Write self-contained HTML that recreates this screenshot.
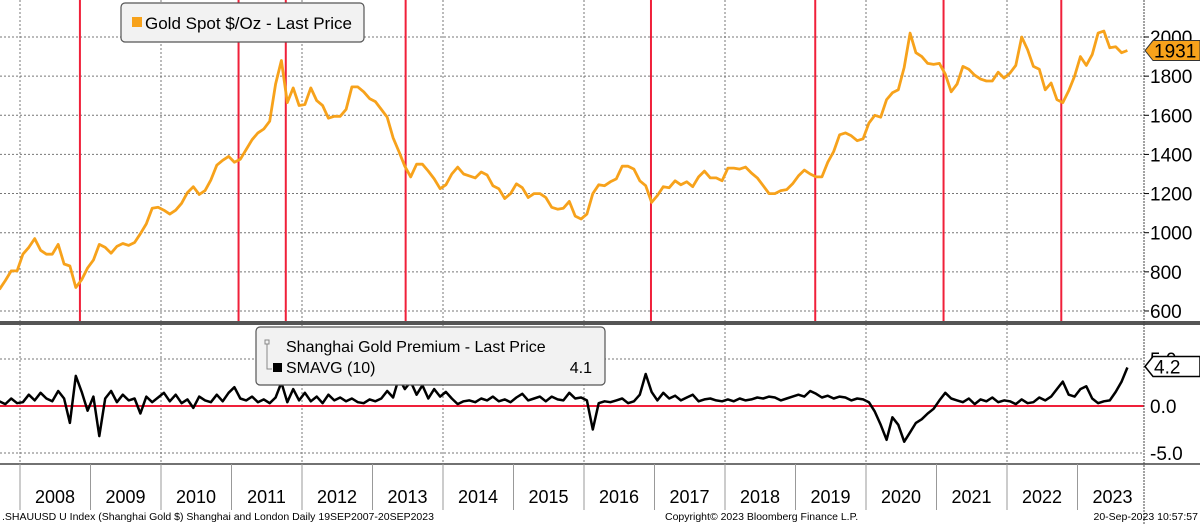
<!DOCTYPE html>
<html><head><meta charset="utf-8"><style>
html,body{margin:0;padding:0;background:#fff;}
svg{display:block;font-family:"Liberation Sans",sans-serif;}
</style></head><body>
<svg id="chart" width="1200" height="524" viewBox="0 0 1200 524" xmlns="http://www.w3.org/2000/svg"></svg>
<script>
const years=[2008,2009,2010,2011,2012,2013,2014,2015,2016,2017,2018,2019,2020,2021,2022,2023];
const goldTicks=[600,800,1000,1200,1400,1600,1800,2000];
const premTicks=[-5,0,5];
const redLineDates=[2008.85,2011.1,2011.77,2013.47,2016.95,2019.28,2021.1,2022.77];
// monthly from Sep 2007
const gold=[710,755,805,805,
890,925,970,910,890,890,940,840,830,720,760,820,
860,940,925,895,930,945,935,950,995,1045,1125,1130,
1115,1095,1115,1150,1205,1235,1195,1215,1270,1345,1370,1390,
1360,1375,1425,1475,1510,1530,1570,1760,1880,1665,1740,1650,
1655,1740,1675,1650,1585,1595,1595,1630,1745,1745,1720,1685,
1670,1630,1590,1485,1415,1340,1285,1350,1350,1315,1275,1225,
1245,1300,1335,1300,1290,1280,1310,1295,1240,1225,1175,1200,
1250,1230,1180,1200,1200,1180,1130,1120,1125,1160,1085,1070,
1095,1200,1245,1240,1260,1275,1340,1340,1325,1265,1240,1155,
1190,1235,1230,1265,1245,1260,1235,1285,1315,1280,1280,1265,
1330,1330,1325,1335,1305,1280,1240,1200,1200,1215,1220,1250,
1290,1320,1300,1285,1285,1360,1415,1500,1510,1495,1470,1480,
1560,1600,1590,1680,1715,1730,1845,2020,1920,1900,1865,1860,
1865,1810,1720,1760,1850,1835,1805,1785,1775,1775,1820,1790,
1815,1855,2000,1935,1850,1835,1730,1765,1680,1665,1725,1800,
1900,1855,1910,2020,2030,1945,1950,1920,1931];
const premium=[0.5,0.2,0.8,0.3,
0.4,1.2,0.6,1.4,0.8,0.5,1.6,0.8,-1.8,3.2,1.5,-0.5,
1.0,-3.2,0.8,1.6,0.4,1.2,0.6,0.8,-0.8,1.0,0.4,0.9,
1.4,0.5,1.2,0.3,0.7,-0.2,1.0,0.6,0.4,1.2,0.5,1.4,
2.0,0.8,0.6,1.0,0.4,0.7,0.3,0.9,2.5,0.4,1.8,0.6,
1.4,0.5,1.0,0.3,1.2,0.6,0.9,0.5,0.8,0.4,0.3,0.7,
0.5,0.8,1.6,0.9,3.0,1.8,2.6,1.2,2.2,0.8,1.8,1.0,
1.5,0.8,0.2,0.5,0.6,0.4,0.8,0.6,1.0,0.5,0.7,0.4,
0.9,1.3,0.6,0.8,1.0,0.5,1.0,0.7,0.6,1.4,0.8,0.9,
0.6,-2.5,0.3,0.5,0.4,0.6,0.8,0.3,0.5,1.2,3.4,1.5,
0.6,1.4,0.8,1.1,0.6,0.9,1.2,0.5,0.7,0.8,0.6,0.5,
0.7,0.5,0.8,0.6,0.7,0.9,0.8,1.0,0.9,0.6,0.8,1.0,
1.2,1.0,1.6,1.3,0.9,1.1,0.8,1.0,0.9,0.6,0.8,0.7,
0.4,-0.6,-2.0,-3.6,-1.2,-2.0,-3.8,-2.8,-1.8,-1.4,-0.8,-0.3,
0.6,1.4,0.8,0.6,0.4,0.8,0.2,0.7,0.5,0.9,0.4,0.6,
0.5,0.2,0.7,0.3,0.4,0.9,0.6,1.0,1.8,2.6,1.2,1.0,
1.8,2.1,0.8,0.3,0.5,0.6,1.5,2.6,4.1];

const NS="http://www.w3.org/2000/svg";
const svg=document.getElementById('chart');
function el(tag,attrs,parent){const e=document.createElementNS(NS,tag);for(const k in attrs)e.setAttribute(k,attrs[k]);(parent||svg).appendChild(e);return e;}
const X=t=>20+(t-2008)*70.5;
const Yg=v=>37+(2000-v)*39.14/200;
const Yp=v=>406-v*9.4;
const tOf=i=>2007+(8+i+0.5)/12;
const AX=1144;

goldTicks.forEach(v=>{const g=el('line',{x1:0,x2:AX,y1:Yg(v),y2:Yg(v),stroke:'#777','stroke-dasharray':'2,2','stroke-width':1});
});
[5,-5].forEach(v=>{const g=el('line',{x1:0,x2:AX,y1:Yp(v),y2:Yp(v),stroke:'#777','stroke-dasharray':'2,2','stroke-width':1});
});
years.forEach((y,i)=>{if(i%2===0){const g=el('line',{x1:X(y),x2:X(y),y1:0,y2:464,stroke:'#777','stroke-dasharray':'2,2','stroke-width':1});
}});

redLineDates.forEach(t=>{const r=el('line',{x1:X(t),x2:X(t),y1:0,y2:322,stroke:'#f0203a','stroke-width':2});
});

let d=gold.map((v,i)=>(i?'L':'M')+X(tOf(i)).toFixed(1)+','+Yg(v).toFixed(1)).join('');
const gl=el('path',{d:d,fill:'none',stroke:'#f7a21b','stroke-width':2.8,'stroke-linejoin':'round'});


const z=el('line',{x1:0,x2:AX,y1:Yp(0),y2:Yp(0),stroke:'#f0203a','stroke-width':2});

d=premium.map((v,i)=>(i?'L':'M')+X(tOf(i)).toFixed(1)+','+Yp(v).toFixed(1)).join('');
const pl=el('path',{d:d,fill:'none',stroke:'#000','stroke-width':2.5,'stroke-linejoin':'round'});


el('rect',{x:0,y:321,width:1200,height:4,fill:'#555'});
el('line',{x1:0,x2:1200,y1:464,y2:464,stroke:'#444','stroke-width':1.5});
el('line',{x1:AX,x2:AX,y1:0,y2:524,stroke:'#444','stroke-width':1,'stroke-dasharray':'2,1'});

goldTicks.forEach(v=>{el('line',{x1:AX,x2:AX+5,y1:Yg(v),y2:Yg(v),stroke:'#000'});
const t=el('text',{x:AX+6,y:Yg(v)+7,'font-size':19,fill:'#000'});t.textContent=v;
});
premTicks.forEach(v=>{const t=el('text',{x:AX+6,y:Yp(v)+7,'font-size':19,fill:'#000'});t.textContent=v.toFixed(1);
});

const gv=gold[gold.length-1],pv=4.2;
el('path',{d:`M${AX+1},${Yg(gv)} l8,-10 H1200 v20 H${AX+9} Z`,fill:'#f7a21b',stroke:'#333','stroke-width':1});
let t=el('text',{x:AX+10,y:Yg(gv)+7,'font-size':19,fill:'#000'});t.textContent=gv;

el('path',{d:`M${AX+1},${Yp(pv)} l8,-10 H1200 v20 H${AX+9} Z`,fill:'#fff',stroke:'#000','stroke-width':1.5});
t=el('text',{x:AX+10,y:Yp(pv)+7,'font-size':19,fill:'#000'});t.textContent=pv.toFixed(1);


years.forEach(y=>{el('line',{x1:X(y),x2:X(y),y1:464,y2:510,stroke:'#999','stroke-width':1});
const l=el('text',{x:X(y)+35,y:503,'font-size':18,'text-anchor':'middle',fill:'#000'});l.textContent=y;
});

const lg=el('g',{});
el('rect',{x:121,y:3,width:243,height:39,rx:4,fill:'#f2f2f2',stroke:'#555','stroke-width':1.2},lg);
el('rect',{x:132,y:17,width:10,height:10,fill:'#f7a21b'},lg);
t=el('text',{x:145,y:29,'font-size':17,fill:'#000'},lg);t.textContent='Gold Spot $/Oz - Last Price';
const lg2=el('g',{});
el('rect',{x:256,y:327,width:349,height:58,rx:4,fill:'#f2f2f2',stroke:'#555','stroke-width':1.2},lg2);
el('rect',{x:265,y:340,width:4,height:4,fill:'none',stroke:'#888'},lg2);
el('path',{d:'M267,344 V369 H272',fill:'none',stroke:'#888'},lg2);
el('rect',{x:273,y:363,width:9,height:9,fill:'#000'},lg2);
t=el('text',{x:286,y:352,'font-size':16,fill:'#000'},lg2);t.textContent='Shanghai Gold Premium - Last Price';
t=el('text',{x:286,y:373,'font-size':16,fill:'#000'},lg2);t.textContent='SMAVG (10)';
t=el('text',{x:592,y:373,'font-size':16,'text-anchor':'end',fill:'#000'},lg2);t.textContent='4.1';

t=el('text',{x:2,y:520,'font-size':10.5,fill:'#000'});t.textContent='.SHAUUSD U Index (Shanghai Gold $) Shanghai and London  Daily 19SEP2007-20SEP2023';

t=el('text',{x:665,y:520,'font-size':10.5,fill:'#000'});t.textContent='Copyright\u00a9 2023 Bloomberg Finance L.P.';

t=el('text',{x:1198,y:520,'font-size':10.5,'text-anchor':'end',fill:'#000'});t.textContent='20-Sep-2023 10:57:57';

</script>
</body></html>
